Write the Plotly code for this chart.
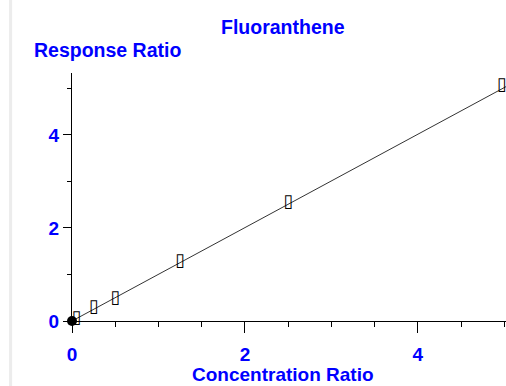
import plotly.graph_objects as go

# Data
std_x = [0.05, 0.25, 0.5, 1.25, 2.5, 4.97]
std_y = [0.06, 0.29, 0.49, 1.28, 2.54, 5.07]
origin_x = [0.0]
origin_y = [0.0]
fit_x = [0.0, 5.02]
fit_y = [0.0, 5.04]
x_ticks = [0, 2, 4]
y_ticks = [0, 2, 4]

BLUE = "#0000ff"
FONT = "Liberation Sans"

fig = go.Figure()
fig.add_trace(go.Scatter(x=fit_x, y=fit_y, mode="lines",
                         line=dict(color="#333333", width=1), cliponaxis=False,
                         hoverinfo="skip"))
fig.add_trace(go.Scatter(x=std_x, y=std_y, mode="text", text=["▯"] * len(std_x),
                         textposition="middle center",
                         textfont=dict(family="DejaVu Sans", size=18, color="black"),
                         cliponaxis=False))
fig.add_trace(go.Scatter(x=origin_x, y=origin_y, mode="markers",
                         marker=dict(symbol="circle", size=10, color="black"),
                         cliponaxis=False))

TF = dict(size=19.5, color=BLUE, family=FONT)
fig.update_layout(
    width=506, height=386,
    margin=dict(l=72, r=0, t=73, b=65),
    paper_bgcolor="white", plot_bgcolor="white",
    showlegend=False,
    font=dict(family=FONT, color=BLUE, size=18),
    shapes=[dict(type="rect", xref="paper", yref="paper",
                 x0=-0.145, x1=-0.138, y0=-0.3, y1=1.3,
                 fillcolor="#ececec", line=dict(width=0), layer="below")],
    annotations=[
        dict(text="<b>Fluoranthene</b>", xref="paper", yref="paper",
             x=0.487, y=1.0 + (73 - 27) / 248, xanchor="center", yanchor="middle",
             showarrow=False, font=TF),
        dict(text="<b>Response Ratio</b>", xref="paper", yref="paper",
             x=(32 - 72) / 434, y=1.0 + (73 - 50) / 248, xanchor="left", yanchor="middle",
             showarrow=False, font=TF),
        dict(text="<b>Concentration Ratio</b>", xref="paper", yref="paper",
             x=0.487, y=-(374 - 321) / 248, xanchor="center", yanchor="middle",
             showarrow=False, font=dict(size=19, color=BLUE, family=FONT)),
    ],
)

fig.update_xaxes(range=[0, 5.02], showgrid=False, zeroline=False,
                 showline=True, linecolor="black", linewidth=1,
                 tickmode="array", tickvals=x_ticks, ticktext=[str(v) for v in x_ticks],
                 ticks="outside", ticklen=11, tickcolor="black", tickwidth=1,
                 ticklabelstandoff=5,
                 tickfont=dict(family=FONT, size=19, color=BLUE, weight="bold"),
                 minor=dict(dtick=0.5, ticks="outside", ticklen=5, tickcolor="black", tickwidth=1),
                 fixedrange=True)
fig.update_yaxes(range=[0, 5.333], showgrid=False, zeroline=False,
                 showline=True, linecolor="black", linewidth=1,
                 tickmode="array", tickvals=y_ticks, ticktext=[str(v) for v in y_ticks],
                 ticks="outside", ticklen=8, tickcolor="black", tickwidth=1,
                 tickfont=dict(family=FONT, size=19, color=BLUE, weight="bold"),
                 minor=dict(dtick=1, ticks="outside", ticklen=4, tickcolor="black", tickwidth=1),
                 fixedrange=True)

fig.write_html("out.html")
